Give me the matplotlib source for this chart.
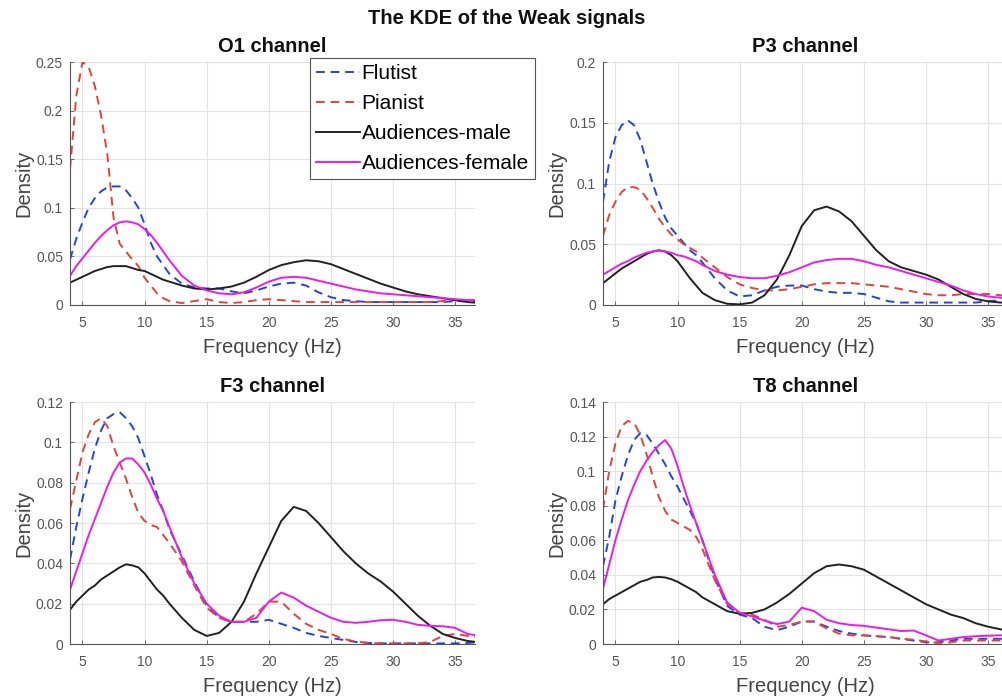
import numpy as np
import matplotlib.pyplot as plt
from matplotlib.ticker import FuncFormatter

plt.rcParams['font.family'] = ['Liberation Sans', 'DejaVu Sans']

# frequency grid (Hz): finer below 12 Hz where the peaks are
freq = [4, 4.5, 5, 5.5, 6, 6.5, 7, 7.5, 8, 8.5, 9, 9.5, 10, 10.5, 11, 11.5, 12,
        13, 14, 15, 16, 17, 18, 19, 20, 21, 22, 23, 24, 25, 26, 27, 28, 29, 30,
        31, 32, 33, 34, 35, 36, 37]

# O1 channel
o1_flutist = [0.047, 0.068, 0.085, 0.1, 0.11, 0.117, 0.121, 0.122, 0.122, 0.118, 0.11, 0.1,
              0.083, 0.064, 0.05, 0.041, 0.032,
              0.022, 0.018, 0.017, 0.017, 0.014, 0.012, 0.015, 0.019, 0.022, 0.023, 0.02,
              0.013, 0.008, 0.005, 0.004, 0.003, 0.003, 0.003, 0.003, 0.003, 0.003, 0.003,
              0.004, 0.004, 0.004]
o1_pianist = [0.14, 0.215, 0.25, 0.245, 0.225, 0.195, 0.155, 0.09, 0.063, 0.055, 0.047, 0.04,
              0.028, 0.02, 0.012, 0.007, 0.004,
              0.002, 0.004, 0.006, 0.003, 0.002, 0.003, 0.005, 0.006, 0.005, 0.004, 0.003,
              0.003, 0.003, 0.003, 0.003, 0.003, 0.003, 0.003, 0.003, 0.003, 0.003, 0.004,
              0.005, 0.005, 0.005]
o1_male = [0.023, 0.026, 0.029, 0.032, 0.035, 0.037, 0.039, 0.04, 0.04, 0.04, 0.038, 0.036,
           0.035, 0.032, 0.029, 0.026, 0.024,
           0.02, 0.017, 0.016, 0.017, 0.019, 0.023, 0.029, 0.036, 0.041, 0.044, 0.046,
           0.045, 0.042, 0.037, 0.032, 0.027, 0.022, 0.018, 0.014, 0.011, 0.009, 0.007,
           0.005, 0.003, 0.002]
o1_female = [0.03, 0.04, 0.048, 0.056, 0.064, 0.071, 0.077, 0.082, 0.085, 0.086, 0.085, 0.083,
             0.078, 0.072, 0.064, 0.055, 0.046,
             0.03, 0.02, 0.015, 0.012, 0.011, 0.013, 0.018, 0.024, 0.028, 0.029, 0.028,
             0.025, 0.022, 0.019, 0.016, 0.014, 0.012, 0.011, 0.01, 0.009, 0.008, 0.007,
             0.006, 0.005, 0.005]

# P3 channel
p3_flutist = [0.085, 0.118, 0.138, 0.148, 0.152, 0.148, 0.136, 0.118, 0.1, 0.085, 0.072, 0.063,
              0.057, 0.051, 0.045, 0.041, 0.035,
              0.022, 0.012, 0.007, 0.008, 0.012, 0.015, 0.016, 0.016, 0.013, 0.011, 0.01,
              0.01, 0.009, 0.006, 0.003, 0.002, 0.002, 0.002, 0.002, 0.002, 0.002, 0.002,
              0.003, 0.004, 0.005]
p3_pianist = [0.057, 0.074, 0.085, 0.093, 0.097, 0.097, 0.095, 0.088, 0.08, 0.071, 0.064, 0.058,
              0.054, 0.05, 0.047, 0.044, 0.039,
              0.031, 0.023, 0.017, 0.014, 0.012, 0.012, 0.013, 0.015, 0.017, 0.018, 0.018,
              0.018, 0.017, 0.016, 0.015, 0.013, 0.011, 0.009, 0.008, 0.008, 0.009, 0.009,
              0.009, 0.008, 0.007]
p3_male = [0.018, 0.022, 0.026, 0.03, 0.033, 0.036, 0.039, 0.042, 0.044, 0.045, 0.044, 0.041,
           0.036, 0.029, 0.022, 0.016, 0.01,
           0.004, 0.001, 0.0005, 0.002, 0.008, 0.021, 0.041, 0.065, 0.078, 0.081, 0.077,
           0.069, 0.057, 0.045, 0.036, 0.031, 0.028, 0.025, 0.021, 0.015, 0.009, 0.005,
           0.003, 0.002, 0.002]
p3_female = [0.025, 0.028, 0.031, 0.034, 0.036, 0.039, 0.041, 0.043, 0.044, 0.045, 0.044, 0.043,
             0.041, 0.04, 0.038, 0.036, 0.033,
             0.028, 0.025, 0.023, 0.022, 0.022, 0.024, 0.027, 0.031, 0.035, 0.037, 0.038,
             0.038, 0.036, 0.033, 0.031, 0.028, 0.025, 0.022, 0.019, 0.016, 0.012, 0.009,
             0.007, 0.006, 0.005]

# F3 channel
f3_flutist = [0.042, 0.058, 0.072, 0.085, 0.097, 0.106, 0.112, 0.114, 0.115, 0.112, 0.108, 0.102,
              0.093, 0.084, 0.074, 0.066, 0.057,
              0.044, 0.031, 0.019, 0.013, 0.011, 0.011, 0.011, 0.012, 0.01, 0.008, 0.0055,
              0.004, 0.003, 0.002, 0.001, 0.0005, 0.0003, 0.0003, 0.0003, 0.0003, 0.0003,
              0.0003, 0.0003, 0.0005, 0.001]
f3_pianist = [0.067, 0.081, 0.095, 0.104, 0.11, 0.112, 0.108, 0.098, 0.09, 0.082, 0.073, 0.065,
              0.061, 0.059, 0.058, 0.054, 0.05,
              0.041, 0.029, 0.018, 0.013, 0.011, 0.011, 0.015, 0.021, 0.021, 0.015, 0.01,
              0.007, 0.005, 0.0025, 0.0012, 0.0006, 0.0003, 0.0003, 0.0003, 0.0003, 0.001,
              0.004, 0.005, 0.004, 0.003]
f3_male = [0.017, 0.021, 0.024, 0.027, 0.029, 0.032, 0.034, 0.036, 0.038, 0.0395, 0.039, 0.038,
           0.035, 0.031, 0.027, 0.024, 0.02,
           0.013, 0.007, 0.004, 0.0055, 0.011, 0.021, 0.035, 0.048, 0.061, 0.068, 0.066,
           0.06, 0.053, 0.046, 0.04, 0.035, 0.031, 0.026, 0.02, 0.014, 0.009, 0.005,
           0.003, 0.0015, 0.0008]
f3_female = [0.027, 0.036, 0.045, 0.054, 0.062, 0.07, 0.078, 0.085, 0.09, 0.092, 0.092, 0.089,
             0.085, 0.079, 0.072, 0.066, 0.058,
             0.043, 0.03, 0.02, 0.014, 0.011, 0.011, 0.013, 0.021, 0.0255, 0.023, 0.019,
             0.016, 0.013, 0.011, 0.0105, 0.011, 0.0118, 0.012, 0.011, 0.0095, 0.009,
             0.0088, 0.008, 0.005, 0.004]

# T8 channel
t8_flutist = [0.045, 0.062, 0.083, 0.097, 0.109, 0.118, 0.122, 0.121, 0.116, 0.11, 0.104, 0.097,
              0.091, 0.084, 0.077, 0.07, 0.06,
              0.038, 0.022, 0.017, 0.015, 0.01, 0.008, 0.01, 0.013, 0.013, 0.01, 0.0075,
              0.006, 0.005, 0.0045, 0.004, 0.003, 0.002, 0.001, 0.001, 0.002, 0.003, 0.003,
              0.003, 0.003, 0.003]
t8_pianist = [0.078, 0.1, 0.116, 0.126, 0.129, 0.128, 0.121, 0.11, 0.097, 0.085, 0.077, 0.072,
              0.07, 0.068, 0.066, 0.062, 0.055,
              0.037, 0.023, 0.018, 0.017, 0.014, 0.01, 0.011, 0.013, 0.013, 0.009, 0.006,
              0.005, 0.005, 0.0045, 0.004, 0.003, 0.0025, 0.0015, 0.0005, 0.001, 0.002,
              0.002, 0.002, 0.002, 0.002]
t8_male = [0.023, 0.026, 0.028, 0.03, 0.032, 0.034, 0.036, 0.037, 0.0385, 0.0388, 0.0385, 0.0375,
           0.036, 0.034, 0.032, 0.03, 0.027,
           0.023, 0.019, 0.0175, 0.018, 0.02, 0.024, 0.029, 0.035, 0.041, 0.045, 0.046,
           0.045, 0.043, 0.039, 0.035, 0.031, 0.027, 0.023, 0.02, 0.017, 0.015, 0.012,
           0.01, 0.0085, 0.007]
t8_female = [0.032, 0.046, 0.06, 0.072, 0.083, 0.092, 0.1, 0.106, 0.111, 0.115, 0.118, 0.113,
             0.103, 0.091, 0.08, 0.07, 0.06,
             0.04, 0.024, 0.018, 0.016, 0.0135, 0.0115, 0.013, 0.021, 0.019, 0.014, 0.012,
             0.011, 0.0105, 0.0095, 0.0085, 0.0075, 0.0078, 0.005, 0.002, 0.003, 0.004,
             0.0045, 0.0048, 0.005, 0.005]

channels = ['O1 channel', 'P3 channel', 'F3 channel', 'T8 channel']
series = [
    [o1_flutist, o1_pianist, o1_male, o1_female],
    [p3_flutist, p3_pianist, p3_male, p3_female],
    [f3_flutist, f3_pianist, f3_male, f3_female],
    [t8_flutist, t8_pianist, t8_male, t8_female],
]
y_tops = [0.25, 0.2, 0.12, 0.14]
y_steps = [0.05, 0.05, 0.02, 0.02]
labels = ['Flutist', 'Pianist', 'Audiences-male', 'Audiences-female']

colors = ['#2446d6', '#e0453c', '#222222', '#e81ee8']
styles = ['--', '--', '-', '-']

fig = plt.figure(figsize=(10.02, 7.0), dpi=100)
fig.suptitle('The KDE of the Weak signals', fontsize=14.5, fontweight='bold',
             x=0.506, y=0.973, va='center', color='#111111')

boxes = [
    [0.0699, 0.5643, 0.4042, 0.3471],
    [0.6018, 0.5643, 0.4042, 0.3471],
    [0.0699, 0.0800, 0.4042, 0.3457],
    [0.6018, 0.0800, 0.4042, 0.3457],
]

fmt = FuncFormatter(lambda v, pos: '%g' % round(v, 3))
handles = []
for k in range(4):
    ax = fig.add_axes(boxes[k])
    for s in range(4):
        ln, = ax.plot(freq, series[k][s], color=colors[s], linestyle=styles[s],
                      linewidth=1.4, label=labels[s])
        if styles[s] == '--':
            ln.set_dashes((4.5, 3))
        if k == 0:
            handles.append(ln)
    ax.set_xlim(4, 36.6)
    ax.set_ylim(0, y_tops[k])
    ax.set_xticks([5, 10, 15, 20, 25, 30, 35])
    ax.set_yticks(np.arange(0, y_tops[k] + 1e-9, y_steps[k]))
    ax.yaxis.set_major_formatter(fmt)
    ax.grid(True, color='#e4e4e4', linewidth=0.8)
    ax.set_axisbelow(True)
    for side in ['top', 'right']:
        ax.spines[side].set_visible(False)
    for side in ['left', 'bottom']:
        ax.spines[side].set_color('#555555')
        ax.spines[side].set_linewidth(0.8)
    ax.tick_params(direction='in', length=3, width=0.6, colors='#555555',
                   labelsize=10, labelcolor='#555555', pad=5)
    ax.tick_params(axis='x', pad=8)
    ax.set_title(channels[k], fontsize=14.5, fontweight='bold', pad=7, color='#111111')
    ax.set_xlabel('Frequency (Hz)', fontsize=14.5, color='#444444', labelpad=6)
    ax.set_ylabel('Density', fontsize=14.5, color='#444444', labelpad=2)

leg = fig.legend(handles=handles, loc='upper left', bbox_to_anchor=(0.309, 0.917),
                 bbox_transform=fig.transFigure, fontsize=15, handlelength=2.1,
                 handletextpad=0.1, labelspacing=0.52, borderpad=0.3,
                 borderaxespad=0, fancybox=False, framealpha=1, edgecolor='#555555')
leg.get_frame().set_linewidth(0.8)

fig.savefig('out.png', dpi=100)
